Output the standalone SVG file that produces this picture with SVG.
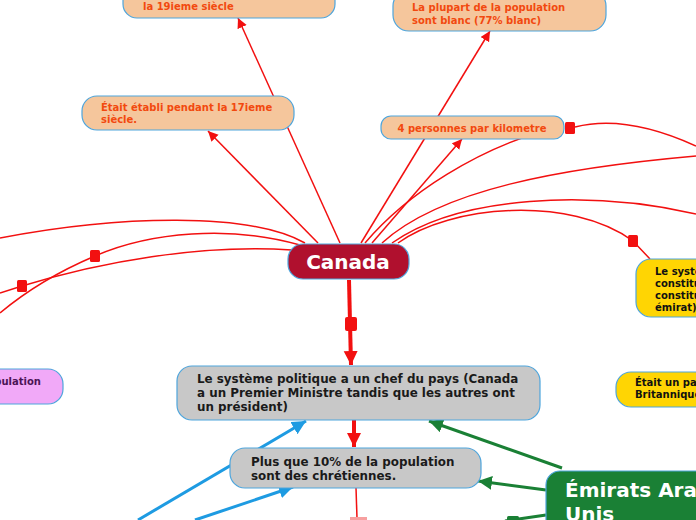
<svg xmlns="http://www.w3.org/2000/svg" width="696" height="520" viewBox="0 0 696 520">
<defs>
<style>
.t{font-family:"DejaVu Sans",Verdana,sans-serif;font-weight:bold}
.or{fill:#f5c69c;stroke:#4ea5dc;stroke-width:1.2}
.ot{fill:#f2490f;font-size:10px}
.gr{fill:#c8c8c8;stroke:#4ea5dc;stroke-width:1.2}
.gt{fill:#1a1a1a;font-size:11.9px}
.ye{fill:#ffd503;stroke:#4ea5dc;stroke-width:1.2}
.yt{fill:#111;font-size:10px}
.red{fill:none;stroke:#f21010;stroke-width:1.5}
.redT{fill:none;stroke:#f21010;stroke-width:4}
.blue{fill:none;stroke:#1e9be2;stroke-width:3}
.green{fill:none;stroke:#1a8035;stroke-width:3}
</style>
<marker id="ar" markerUnits="userSpaceOnUse" markerWidth="12" markerHeight="12" refX="10" refY="5" orient="auto"><path d="M0,0 L10,5 L0,10 z" fill="#f21010"/></marker>
<marker id="arT" markerUnits="userSpaceOnUse" markerWidth="18" markerHeight="18" refX="14" refY="7" orient="auto"><path d="M0,0 L14,7 L0,14 z" fill="#f21010"/></marker>
<marker id="ab" markerUnits="userSpaceOnUse" markerWidth="18" markerHeight="18" refX="14" refY="7" orient="auto"><path d="M0,0 L14,7 L0,14 z" fill="#1e9be2"/></marker>
<marker id="ag" markerUnits="userSpaceOnUse" markerWidth="18" markerHeight="18" refX="14" refY="7" orient="auto"><path d="M0,0 L14,7 L0,14 z" fill="#1a8035"/></marker>
</defs>

<g id="connectors">
<path class="red" d="M340 243 L238 18" marker-end="url(#ar)"/>
<path class="red" d="M318 243 L208 131" marker-end="url(#ar)"/>
<path class="red" d="M361 243 L490 31" marker-end="url(#ar)"/>
<path class="red" d="M372 243 L462 139" marker-end="url(#ar)"/>
<path class="red" d="M305 243 C250 212 120 215 0 238"/>
<path class="red" d="M300 245 C230 225 150 232 95 256 C55 273 25 292 0 313"/>
<path class="red" d="M292 250 C200 244 100 262 22 286 L0 293"/>
<rect x="90" y="250" width="10" height="12" rx="1.5" fill="#f21010"/>
<rect x="17" y="280" width="10" height="12" rx="1.5" fill="#f21010"/>
<path class="red" d="M365 243 C410 190 480 150 540 132"/>
<path class="red" d="M575 127 C610 118 650 125 696 146"/>
<path class="red" d="M382 243 C440 190 560 168 696 156"/>
<path class="red" d="M392 243 C460 195 590 190 696 214"/>
<path class="red" d="M398 243 C450 205 570 195 633 241 L650 259"/>
<rect x="565" y="122" width="10" height="12" rx="1.5" fill="#f21010"/>
<rect x="628" y="235" width="10" height="12" rx="1.5" fill="#f21010"/>
<path class="redT" d="M349 280 L351 365" marker-end="url(#arT)"/>
<rect x="345" y="317" width="12" height="14" rx="2" fill="#f21010"/>
<path class="redT" d="M354 420 L354 447" marker-end="url(#arT)"/>
<path class="red" d="M356 488 L357 518" stroke-width="2.5"/>
<rect x="350" y="517" width="17" height="6" fill="#f7a0a0"/>
<path class="blue" d="M138 520 L306 421" marker-end="url(#ab)"/>
<path class="blue" d="M195 520 L293 487" marker-end="url(#ab)"/>
<path class="green" d="M562 468 L429 421" marker-end="url(#ag)"/>
<path class="green" d="M546 490 L478 481" marker-end="url(#ag)"/>
<path class="green" d="M546 515 L505 521"/>
<rect x="507" y="516" width="12" height="8" rx="1.5" fill="#1a8035"/>
</g>

<g id="n-19ieme">
<rect class="or" x="123" y="-14" width="212" height="32" rx="14"/>
<text class="t ot" x="143" y="10">la 19ieme siècle</text>
</g>
<g id="n-blanc">
<rect class="or" x="393" y="-10" width="213" height="41" rx="16"/>
<text class="t ot" x="412" y="11">La plupart de la population</text>
<text class="t ot" x="412" y="24">sont blanc (77% blanc)</text>
</g>
<g id="n-17ieme">
<rect class="or" x="82" y="96" width="212" height="34" rx="15"/>
<text class="t ot" x="101" y="111">Était établi pendant la 17ieme</text>
<text class="t ot" x="101" y="123">siècle.</text>
</g>
<g id="n-km">
<rect class="or" x="381" y="116" width="183" height="23" rx="10"/>
<text class="t ot" x="472" y="132" text-anchor="middle">4 personnes par kilometre</text>
</g>
<g id="n-canada">
<rect x="288" y="244" width="121" height="35" rx="15" fill="#b0102e" stroke="#4ea5dc" stroke-width="1.2"/>
<text class="t" x="348" y="269" text-anchor="middle" font-size="20" fill="#fff">Canada</text>
</g>
<g id="n-constit">
<rect class="ye" x="636" y="259" width="120" height="58" rx="15"/>
<text class="t yt" x="655" y="275">Le système</text>
<text class="t yt" x="655" y="287">constitutionnel</text>
<text class="t yt" x="655" y="299">constitutionnel</text>
<text class="t yt" x="655" y="311">émirat)</text>
</g>
<g id="n-brit">
<rect class="ye" x="616" y="372" width="140" height="35" rx="15"/>
<text class="t yt" x="635" y="386">Était un pays</text>
<text class="t yt" x="635" y="398">Britannique</text>
</g>
<g id="n-pop">
<rect x="-100" y="369" width="163" height="35" rx="15" fill="#f1a9f8" stroke="#4ea5dc" stroke-width="1.2"/>
<text class="t" x="41" y="385" text-anchor="end" font-size="10" fill="#4b1456">population</text>
</g>
<g id="n-politique">
<rect class="gr" x="177" y="366" width="363" height="54" rx="15"/>
<text class="t gt" x="197" y="383">Le système politique a un chef du pays (Canada</text>
<text class="t gt" x="197" y="397">a un Premier Ministre tandis que les autres ont</text>
<text class="t gt" x="197" y="411">un président)</text>
</g>
<g id="n-chretiens">
<rect class="gr" x="230" y="448" width="251" height="40" rx="15"/>
<text class="t gt" x="251" y="466">Plus que 10% de la population</text>
<text class="t gt" x="251" y="480">sont des chrétiennes.</text>
</g>
<g id="n-emirats">
<rect x="546" y="471" width="200" height="70" rx="14" fill="#1a8035" stroke="#4ea5dc" stroke-width="1.2"/>
<text class="t" x="565" y="497" font-size="20" fill="#fff">Émirats Arabes</text>
<text class="t" x="565" y="521" font-size="20" fill="#fff">Unis</text>
</g>
</svg>
